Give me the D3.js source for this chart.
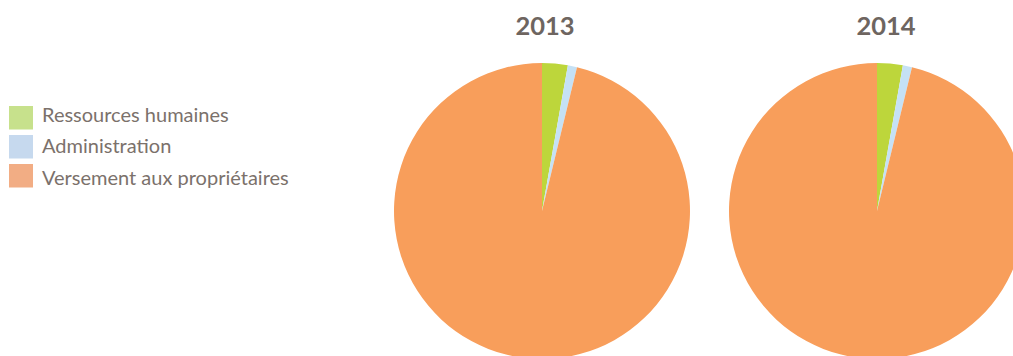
<!DOCTYPE html>
<html>
<head>
<meta charset="utf-8">
<script src="https://cdn.jsdelivr.net/npm/d3@7"></script>
<style>
  html, body { margin: 0; padding: 0; background: #fff; }
  svg { display: block; }
</style>
</head>
<body>
<svg id="chart" width="1013" height="356"></svg>
<script>
// Budget breakdown by year (percent of total)
const categories = ["Ressources humaines", "Administration", "Versement aux propriétaires"];
const years = ["2013", "2014"];
const values2013 = [2.8, 1.0, 96.2];
const values2014 = [2.8, 1.0, 96.2];
const series = [values2013, values2014];

const sliceColors = ["#bdd63b", "#c5e1f5", "#f89e5b"];
const legendColors = ["#c7e18c", "#c6d9ee", "#f2ad84"];

const svg = d3.select("#chart");
const radius = 148;
const cy = 211;

// Pie centres laid out along a point scale
const xPie = d3.scalePoint().domain(years).range([542, 877]);

const pie = d3.pie().sort(null).value(d => d);
const arc = d3.arc().innerRadius(0).outerRadius(radius);

years.forEach((yr, i) => {
  const g = svg.append("g").attr("transform", `translate(${xPie(yr)},${cy})`);
  g.selectAll("path")
    .data(pie(series[i]))
    .join("path")
    .attr("d", arc)
    .attr("fill", (d, j) => sliceColors[j]);

  svg.append("text")
    .attr("x", xPie(yr) + 3 + i * 6)
    .attr("y", 35)
    .attr("text-anchor", "middle")
    .attr("font-family", "Lato, 'Open Sans', sans-serif")
    .attr("font-weight", "bold")
    .attr("font-size", 25.5)
    .attr("fill", "#6e6560")
    .text(yr);
});

// Legend
const legend = svg.append("g").attr("transform", "translate(9,106)");
const rowY = d3.scalePoint().domain(categories).range([0, 58]);
const rows = legend.selectAll("g")
  .data(categories)
  .join("g")
  .attr("transform", d => `translate(0,${rowY(d)})`);
rows.append("rect")
  .attr("width", 24)
  .attr("height", 23.5)
  .attr("fill", (d, j) => legendColors[j]);
rows.append("text")
  .attr("x", 33)
  .attr("y", (d, j) => 16 + j * 2.3)
  .attr("font-family", "Lato, 'Open Sans', sans-serif")
  .attr("font-size", 20)
  .attr("fill", "#7b716b")
  .text(d => d);
</script>
</body>
</html>
